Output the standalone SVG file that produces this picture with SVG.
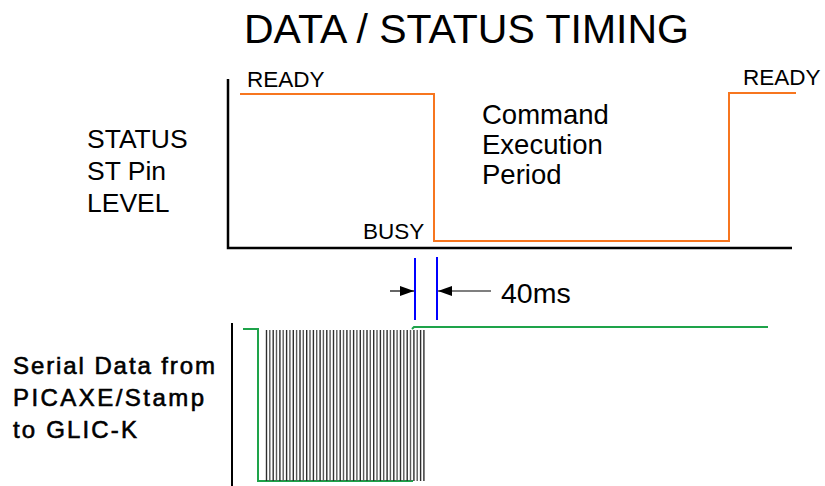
<svg xmlns="http://www.w3.org/2000/svg" width="825" height="486" viewBox="0 0 825 486">
  <style>
    .lbl { font-family: "Liberation Sans", Arial, sans-serif; font-size: 22.5px; fill: #000; }
    .side { font-size: 26.5px; }
    .big { font-size: 27.5px; }
    .title { font-family: "Liberation Sans", Arial, sans-serif; font-size: 41px; fill: #000; }
    .ser { font-family: "Liberation Sans", Arial, sans-serif; font-size: 24px; fill: #000; stroke: #000; stroke-width: 0.6; }
    .axis { stroke: #000; stroke-width: 2.5; fill: none; }
    .status { stroke: #f7761f; stroke-width: 2; fill: none; }
    .data { stroke: #1ea34a; stroke-width: 2; fill: none; }
    .mark { stroke: #0000ff; stroke-width: 2; fill: none; }
    .dim { stroke: #000; stroke-width: 1.2; fill: none; }
    .bits { stroke: #2e2e2e; stroke-width: 1.4; fill: none; }
    .bits2 { stroke: #5a5a5a; stroke-width: 1.4; fill: none; }
  </style>
  <defs>
    <marker id="ah" viewBox="0 0 14 10" refX="14" refY="5" markerWidth="14" markerHeight="10" markerUnits="userSpaceOnUse" orient="auto">
      <path d="M0,0 L14,5 L0,10 Z" fill="#000"/>
    </marker>
  </defs>
  <rect width="825" height="486" fill="#fff"/>

  <text class="title" x="244" y="43">DATA / STATUS TIMING</text>

  <!-- status trace -->
  <g id="status-trace">
    <path class="axis" d="M228,79 V248 H792"/>
    <path class="status" d="M240,94 H434 V241 H729 V93 H796"/>
    <text class="lbl" x="247" y="87">READY</text>
    <text class="lbl" x="743" y="85">READY</text>
    <text class="lbl" x="363" y="239">BUSY</text>
    <text class="lbl side" x="87" y="148">STATUS</text>
    <text class="lbl side" x="87" y="180">ST Pin</text>
    <text class="lbl side" x="87" y="212">LEVEL</text>
    <text class="lbl big" x="482" y="123.5">Command</text>
    <text class="lbl big" x="482" y="153.5">Execution</text>
    <text class="lbl big" x="482" y="184">Period</text>
  </g>

  <!-- 40ms gap dimension -->
  <g id="gap">
    <path class="mark" d="M415,258 V320 M437,257 V320"/>
    <g id="connectors">
      <path class="dim" d="M390,291 H414" marker-end="url(#ah)"/>
      <path class="dim" d="M491,291 H438" marker-end="url(#ah)"/>
    </g>
    <text class="lbl" x="501" y="303" style="font-size:28.5px">40ms</text>
  </g>

  <!-- serial data trace -->
  <g id="serial-trace">
    <path d="M232,323 V486" stroke="#000" stroke-width="2" fill="none"/>
    <path class="data" d="M243,329 H258 V481 H413"/>
    <path class="data" d="M412,329 L414,327 H768"/>
    <!-- bit burst: alternating dark / mid grey bars -->
    <path class="bits" d="M266.5,330 V481 M273.2,330 V481 M279.9,330 V481 M286.6,330 V481 M293.3,330 V481 M300,330 V481 M306.7,330 V481 M313.4,330 V481 M320.1,330 V481 M326.8,330 V481 M333.5,330 V481 M340.2,330 V481 M346.9,330 V481 M353.6,330 V481 M360.3,330 V481 M367,330 V481 M373.7,330 V481 M380.4,330 V481 M387.1,330 V481 M393.8,330 V481 M400.5,330 V481 M407.2,330 V481 M413.9,330 V481 M420.6,330 V481 M423.9,330 V481"/>
    <path class="bits2" d="M269.8,330 V481 M276.5,330 V481 M283.2,330 V481 M289.9,330 V481 M296.6,330 V481 M303.3,330 V481 M310,330 V481 M316.7,330 V481 M323.4,330 V481 M330.1,330 V481 M336.8,330 V481 M343.5,330 V481 M350.2,330 V481 M356.9,330 V481 M363.6,330 V481 M370.3,330 V481 M377,330 V481 M383.7,330 V481 M390.4,330 V481 M397.1,330 V481 M403.8,330 V481 M410.5,330 V481 M417.2,330 V481"/>
    <text class="ser" x="13" y="374" textLength="202" lengthAdjust="spacing">Serial Data from</text>
    <text class="ser" x="13" y="406" textLength="191" lengthAdjust="spacing">PICAXE/Stamp</text>
    <text class="ser" x="13" y="438" textLength="124" lengthAdjust="spacing">to GLIC-K</text>
  </g>
</svg>
